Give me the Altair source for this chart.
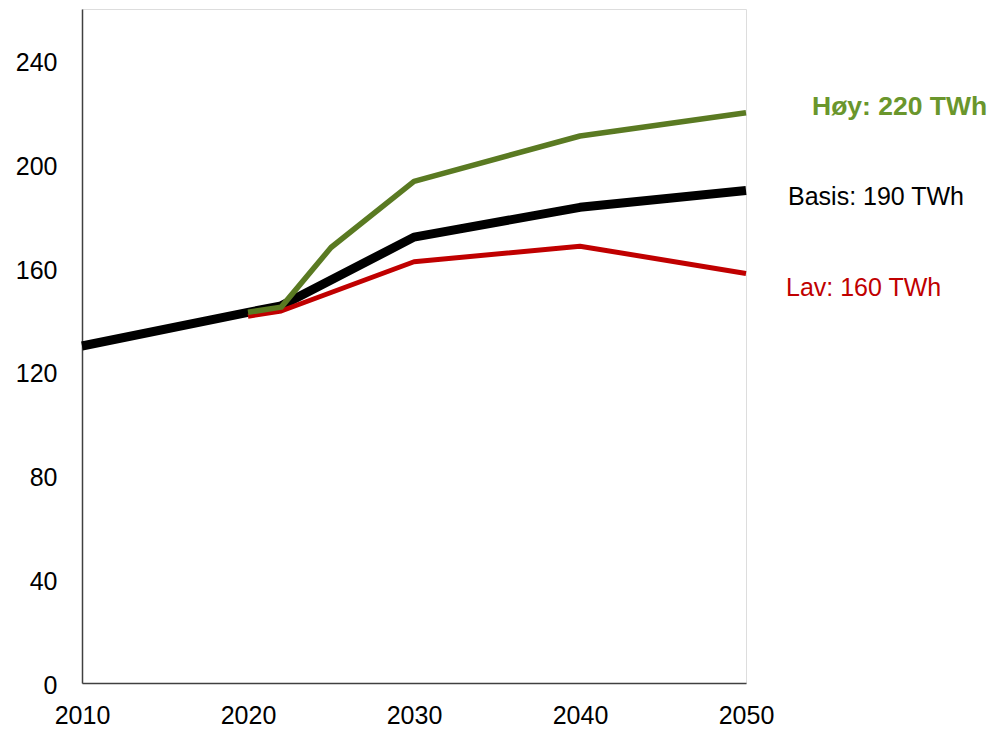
import altair as alt
import pandas as pd

# Data
basis_years = [2010, 2020, 2022, 2030, 2040, 2050]
basis_vals = [130, 143, 145.5, 172, 183.5, 190]
hoy_years = [2020, 2022, 2025, 2030, 2040, 2050]
hoy_vals = [143, 145, 168, 193.5, 211, 220]
lav_years = [2020, 2022, 2030, 2040, 2050]
lav_vals = [141.5, 143.5, 162.5, 168.5, 158]
labels = {"Basis": "Basis: 190 TWh", "Høy": "Høy: 220 TWh", "Lav": "Lav: 160 TWh"}
x_ticks = [2010, 2020, 2030, 2040, 2050]
y_ticks = [0, 40, 80, 120, 160, 200, 240]

def frame(name, years, vals):
    return pd.DataFrame({"year": years, "value": vals, "series": name, "label": labels[name]})

df_b = frame("Basis", basis_years, basis_vals)
df_h = frame("Høy", hoy_years, hoy_vals)
df_l = frame("Lav", lav_years, lav_vals)

FONT = "Liberation Sans"
x_enc = alt.X("year:Q", scale=alt.Scale(domain=[2010, 2050], nice=False, zero=False),
              axis=alt.Axis(values=x_ticks, format="d", title=None, ticks=False, grid=False,
                            labelFontSize=25, labelFont=FONT, labelColor="#000000",
                            labelPadding=20, labelBaseline="top", labelFlush=False,
                            domainColor="#404040", domainWidth=1.5))
y_enc = alt.Y("value:Q", scale=alt.Scale(domain=[0, 260], nice=False),
              axis=alt.Axis(values=y_ticks, title=None, ticks=False, grid=False,
                            labelFontSize=25, labelFont=FONT, labelColor="#000000",
                            labelPadding=25, labelOffset=2,
                            domainColor="#404040", domainWidth=1.5))

def line(df, color, width):
    return alt.Chart(df).mark_line(color=color, strokeWidth=width, strokeCap="butt", strokeJoin="round").encode(
        x=x_enc, y=y_enc)

def label(df, color, dx, dy, size=25, bold=False):
    return alt.Chart(df).transform_filter(alt.datum.year == 2050).mark_text(
        align="left", baseline="middle", dx=dx, dy=dy, fontSize=size, font=FONT,
        fontWeight="bold" if bold else "normal", color=color).encode(
        x="year:Q", y="value:Q", text="label:N")

chart = alt.layer(
    line(df_b, "#000000", 9),
    line(df_l, "#C00000", 5),
    line(df_h, "#5A7A22", 5.5),
    label(df_h, "#6A962C", 66, -6, 26.5, True),
    label(df_b, "#000000", 42, 7),
    label(df_l, "#C00000", 40, 15),
).properties(
    width=664, height=674,
    autosize=alt.AutoSizeParams(type="none"),
    padding={"left": 74, "top": 1, "right": 242, "bottom": 44},
).configure_view(stroke=None).configure(background="white")

chart.save("out.html", embed_options={"renderer": "svg", "actions": False})
